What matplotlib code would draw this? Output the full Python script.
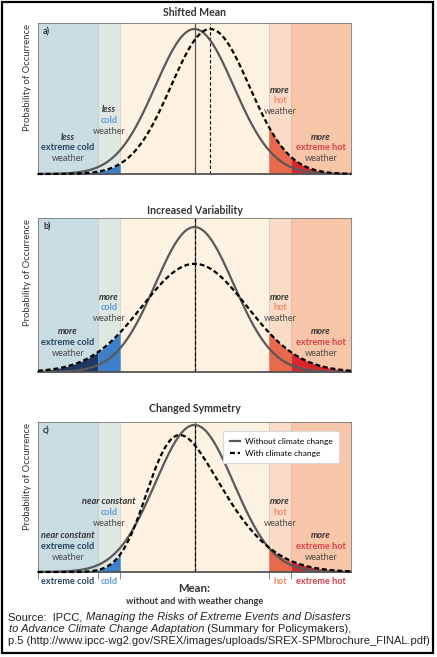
import math

import matplotlib

matplotlib.use("Agg")
import matplotlib.pyplot as plt
import numpy as np
from matplotlib import transforms
from matplotlib.lines import Line2D
from matplotlib.patches import Rectangle

W, H = 437, 657
plt.rcParams["font.family"] = ["Lato", "DejaVu Sans"]

# --- data (x in standard deviations of the climate without change) ---
BAND_EDGES = [-4.0, -2.47, -1.9, 1.9, 2.47, 4.0]
BAND_COLORS = ["#c9dce2", "#dfe7e3", "#fdf2e2", "#f9dbc7", "#f7c6a8"]
TAIL_FILLS = ["#1f3761", "#3f7ec8", None, "#e8684b", "#d8262f"]
BAND_NAMES = ["extreme cold", "cold", "hot", "extreme hot"]
BAND_NAME_COLORS = ["#27445e", "#5b9bd5", "#f08a6c", "#d9404a"]

TITLES = ["Shifted Mean", "Increased Variability", "Changed Symmetry"]
TAGS = ["a)", "b)", "c)"]
# (loc, scale, skew, amplitude) of the distribution without / with climate change
BASE_DIST = (0.0, 1.0, 0.0, 1.0)
NEW_DIST = [(0.4, 1.0, 0.0, 1.0), (0.0, 1.34, 0.0, 1.0), (-1.154, 1.544, 2.5, 0.911)]
NEW_MEAN = [0.4, 0.0, 0.0]
QUALIFIERS = [
    ["less", "less", "more", "more"],
    ["more", "more", "more", "more"],
    ["near constant", "near constant", "more", "more"],
]
# top line of each annotation (axes fraction): extreme cold, cold, hot, extreme hot
LABEL_TOPS = [
    [0.245, 0.424, 0.556, 0.245],
    [0.26, 0.487, 0.487, 0.26],
    [0.24, 0.467, 0.467, 0.24],
]

# axes boxes in pixels: left, top, right, bottom
AX_BOX = [(38, 23, 351, 174), (38, 218, 351, 372), (38, 422, 351, 572)]
Y_TOP = [0.4155, 0.4238, 0.407]
TITLE_Y = [12, 210, 408]


def pdf(x, loc, scale, skew, amp):
    z = (x - loc) / scale
    phi = np.exp(-0.5 * z**2) / math.sqrt(2 * math.pi)
    cdf = 0.5 * (1 + np.vectorize(math.erf)(skew * z / math.sqrt(2)))
    return amp * 2 * phi * cdf / scale


fig = plt.figure(figsize=(W / 100, H / 100), dpi=100)
x = np.linspace(BAND_EDGES[0], BAND_EDGES[-1], 800)
centers = [(BAND_EDGES[i] + BAND_EDGES[i + 1]) / 2 for i in (0, 1, 3, 4)]
dash = (0, (2.2, 1.3))

for k in range(3):
    l, t, r, b = AX_BOX[k]
    ax = fig.add_axes([l / W, 1 - b / H, (r - l) / W, (b - t) / H])
    ax.set_xlim(BAND_EDGES[0], BAND_EDGES[-1])
    ax.set_ylim(0, Y_TOP[k])

    for i, col in enumerate(BAND_COLORS):
        ax.axvspan(BAND_EDGES[i], BAND_EDGES[i + 1], color=col, lw=0, zorder=0)
    for e in BAND_EDGES[1:-1]:
        ax.axvline(e, color="#b9c2c0", lw=0.4, zorder=0.5)

    base = pdf(x, *BASE_DIST)
    new = pdf(x, *NEW_DIST[k])
    for i, col in enumerate(TAIL_FILLS):
        if col is None:
            continue
        xs = np.linspace(BAND_EDGES[i], BAND_EDGES[i + 1], 60)
        ax.fill_between(xs, 0, pdf(xs, *NEW_DIST[k]), color=col, lw=0, zorder=1)

    ax.axvline(BASE_DIST[0], color="#555555", lw=0.9, zorder=2)
    ax.axvline(NEW_MEAN[k], color="black", lw=0.8, ls=(0, (3, 2)), zorder=2)
    ax.plot(x, base, color="#595959", lw=1.6, zorder=3, clip_on=False,
            solid_capstyle="butt")
    ax.plot(x, new, color="black", lw=1.6, ls=dash, zorder=4, clip_on=False)

    for s in ("top", "left", "right"):
        ax.spines[s].set_color("#777777")
        ax.spines[s].set_linewidth(0.6)
    ax.spines["bottom"].set_color("#555555")
    ax.spines["bottom"].set_linewidth(1.3)
    ax.set_yticks([])
    if k == 2:
        ax.set_xticks(BAND_EDGES[:3] + BAND_EDGES[3:5])
        ax.tick_params(axis="x", length=5, width=0.6, color="#777777",
                       labelbottom=False)
    else:
        ax.set_xticks([])

    ax.text(0.5, 1 + (t - TITLE_Y[k]) / (b - t), TITLES[k], transform=ax.transAxes,
            ha="center", va="center", fontsize=7.6, fontweight="bold",
            color="#333333")
    ax.text(0.016, 1 - 9 / (b - t), TAGS[k], transform=ax.transAxes,
            ha="left", va="center", fontsize=6.5, fontweight="bold",
            color="#333333")
    ax.text(-10 / (r - l), 1 - 1 / (b - t), "Probability of Occurrence",
            transform=ax.transAxes, rotation=90, ha="center", va="top",
            fontsize=6.8, color="#333333")

    trans = ax.get_xaxis_transform()
    for j in range(4):
        lines = [
            (QUALIFIERS[k][j], "#333333", "bold", "italic"),
            (BAND_NAMES[j], BAND_NAME_COLORS[j], "bold", "normal"),
            ("weather", "#4a4a4a", "normal", "normal"),
        ]
        for n, (txt, col, fw, fs) in enumerate(lines):
            tr = transforms.offset_copy(trans, fig=fig, y=-n * 7.6, units="points")
            ax.text(centers[j], LABEL_TOPS[k][j], txt, transform=tr,
                    ha="center", va="center", fontsize=6.6, color=col,
                    fontweight=fw, fontstyle=fs)

    if k == 2:
        handles = [
            Line2D([], [], color="#595959", lw=1.6),
            Line2D([], [], color="black", lw=1.6, ls=dash),
        ]
        leg = ax.legend(handles, ["Without climate change", "With climate change"],
                        loc="upper right", bbox_to_anchor=(0.975, 0.968),
                        fontsize=6, frameon=True, fancybox=False,
                        edgecolor="#d8d8d8", framealpha=1, handlelength=1.3,
                        handletextpad=0.5, borderpad=0.8, labelspacing=0.6)
        leg.get_frame().set_linewidth(0.8)
        leg.set_zorder(6)
        below = transforms.offset_copy(trans, fig=fig, y=-10 * 0.72, units="points")
        for j in range(4):
            ax.text(centers[j], 0, BAND_NAMES[j], transform=below, ha="center",
                    va="center", fontsize=6.6, fontweight="bold",
                    color=BAND_NAME_COLORS[j])
        ax.text(0.0, 0, "Mean:", transform=transforms.offset_copy(
                    trans, fig=fig, y=-16 * 0.72, units="points"),
                ha="center", va="center", fontsize=8.2, fontweight="bold",
                color="#333333")
        ax.text(0.0, 0, "without and with weather change",
                transform=transforms.offset_copy(trans, fig=fig, y=-29 * 0.72,
                                                 units="points"),
                ha="center", va="center", fontsize=6.6, fontweight="bold",
                color="#333333")

# source note, mixing upright and italic runs
bg = fig.add_axes([0, 0, 1, 1], zorder=-1)
bg.axis("off")
bg.set_xlim(0, W)
bg.set_ylim(H, 0)
src = dict(fontsize=8.0, color="#222222", family=["Liberation Sans", "DejaVu Sans"])
t1 = bg.text(8, 622, "Source:  IPCC, ", va="bottom", ha="left", **src)
bg.annotate("Managing the Risks of Extreme Events and Disasters", xy=(1, 0),
            xycoords=t1, va="bottom", ha="left", fontstyle="italic", **src)
t2 = bg.text(9, 634, "to Advance Climate Change Adaptation", va="bottom",
             ha="left", fontstyle="italic", **src)
bg.annotate(" (Summary for Policymakers),", xy=(1, 0), xycoords=t2,
            va="bottom", ha="left", **src)
bg.text(8, 646, "p.5 (http://www.ipcc-wg2.gov/SREX/images/uploads/SREX-SPMbrochure_FINAL.pdf)",
        va="bottom", ha="left", **src)

fig.add_artist(Rectangle((1.5 / W, 1 - 653 / H), 431 / W, 651 / H,
                         transform=fig.transFigure, fill=False, lw=1.6,
                         edgecolor="black"))

fig.savefig("out.png", dpi=100)
